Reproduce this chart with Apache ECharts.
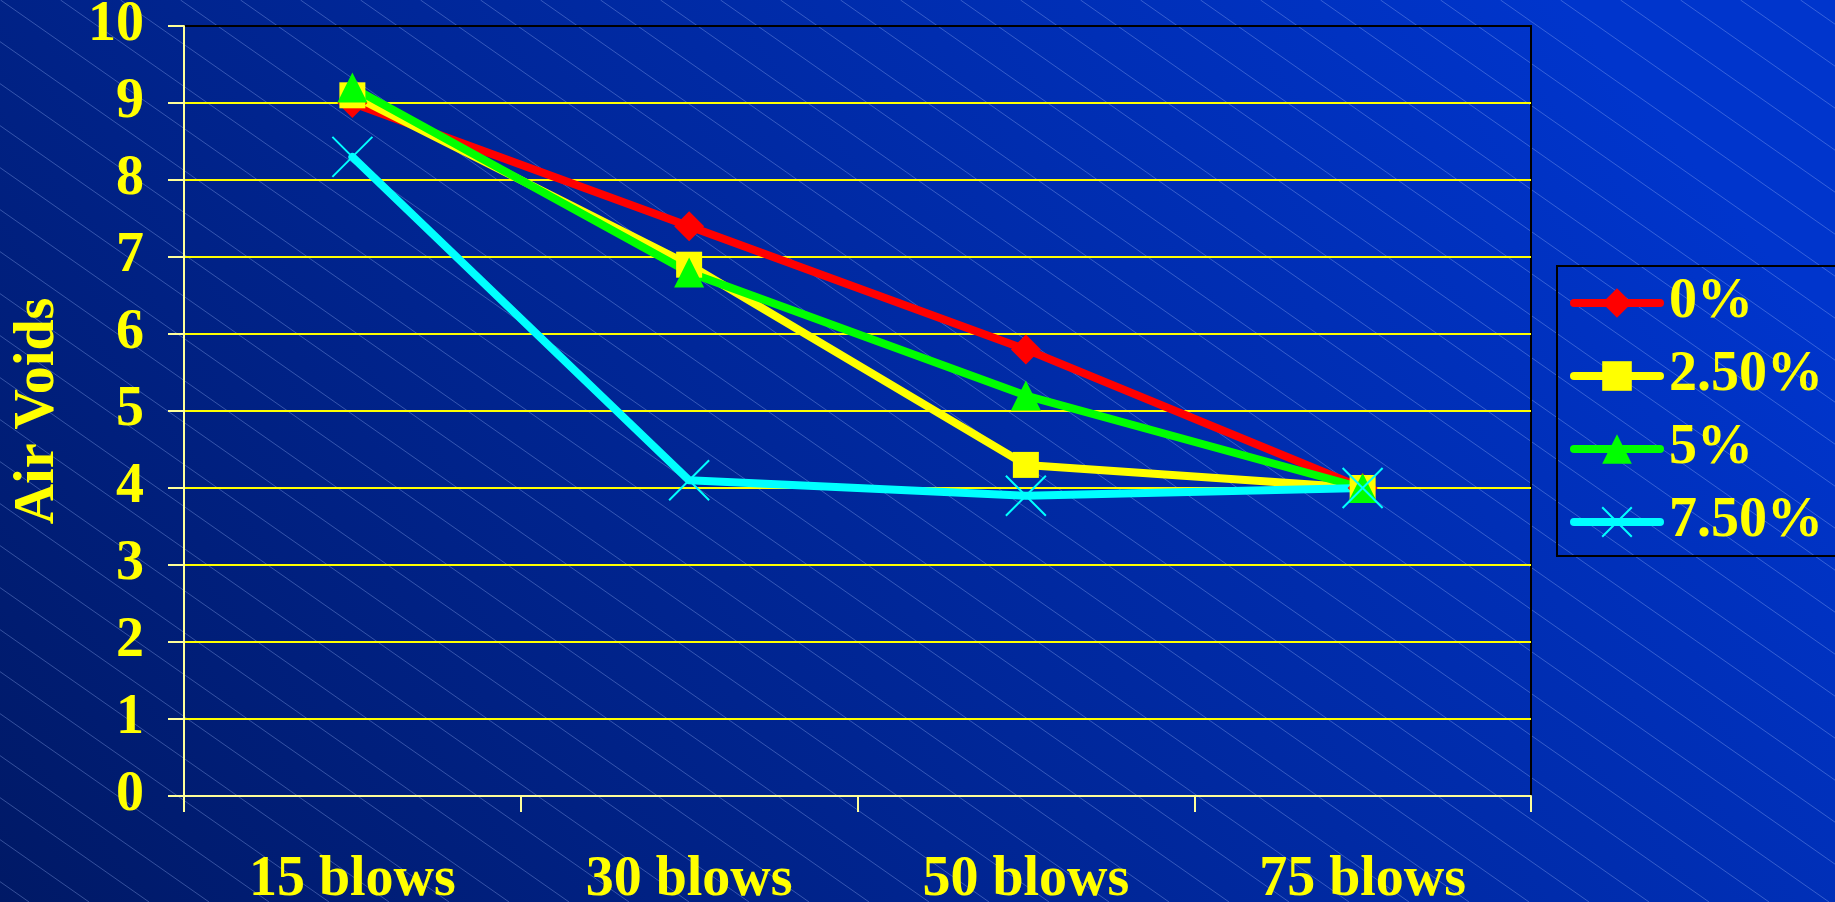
<!DOCTYPE html>
<html>
<head>
<meta charset="utf-8">
<title>Air Voids</title>
<script src="https://cdn.jsdelivr.net/npm/echarts@6/dist/echarts.min.js"></script>
<style>
  html, body { margin: 0; padding: 0; background: #001a66; }
  body { width: 1835px; height: 902px; overflow: hidden; position: relative; }
  #backdrop, #chart { position: absolute; left: 0; top: 0; width: 1835px; height: 902px; }
</style>
</head>
<body>
<canvas id="backdrop" width="1835" height="902"></canvas>
<div id="chart"></div>
<script>
// Compaction level on the x axis, air voids (%) on the y axis
const categories = ['15 blows', '30 blows', '50 blows', '75 blows'];
const seriesNames = ['0%', '2.50%', '5%', '7.50%'];
const voids0 = [9.0, 7.4, 5.8, 4.0];
const voids25 = [9.1, 6.9, 4.3, 4.0];
const voids5 = [9.2, 6.8, 5.2, 4.0];
const voids75 = [8.3, 4.1, 3.9, 4.0];

const FONT = 'Liberation Serif';
const LABEL_YELLOW = '#ffff00';
const AXIS_YELLOW = '#ffff99';

// Slide backdrop: diagonal blue gradient with faint hatch lines
(function drawBackdrop() {
  const cv = document.getElementById('backdrop');
  const ctx = cv.getContext('2d');
  const W = cv.width, H = cv.height;
  const g = ctx.createLinearGradient(0, H, W * 0.75, -H * 0.25);
  g.addColorStop(0, '#001966');
  g.addColorStop(1, '#0035cc');
  ctx.fillStyle = g;
  ctx.fillRect(0, 0, W, H);
  const slope = 0.7, step = 60;
  ctx.strokeStyle = 'rgba(165, 190, 255, 0.33)';
  ctx.lineWidth = 1;
  ctx.beginPath();
  for (let x0 = -Math.ceil(H / slope / step) * step; x0 < W; x0 += step) {
    ctx.moveTo(x0 + 0.5, 0);
    ctx.lineTo(x0 + 0.5 + H / slope, H);
  }
  ctx.stroke();
})();

function lineSeries(name, data, color, symbol, size, extraItemStyle) {
  return {
    name: name,
    type: 'line',
    data: data,
    symbol: symbol,
    symbolSize: size,
    lineStyle: { color: color, width: 8, cap: 'round', join: 'round' },
    itemStyle: Object.assign({ color: color, borderWidth: 0 }, extraItemStyle || {}),
    emphasis: { disabled: true }
  };
}

const chart = echarts.init(document.getElementById('chart'), null, { renderer: 'canvas' });

chart.setOption({
  backgroundColor: 'transparent',
  animation: false,
  grid: {
    left: 184, right: 304, top: 26, bottom: 106,
    outerBoundsMode: 'none',
    containLabel: false,
    show: true, borderColor: '#000000', borderWidth: 2, backgroundColor: 'transparent'
  },
  legend: {
    orient: 'vertical',
    left: 1557, top: 266,
    itemWidth: 86, itemHeight: 37, itemGap: 17,
    padding: [9, 40, 6, 13],
    borderColor: '#000000', borderWidth: 2,
    lineStyle: { width: 8, cap: 'round' },
    textStyle: { color: LABEL_YELLOW, fontFamily: FONT, fontWeight: 'bold', fontSize: 56, lineHeight: 56, padding: [0, 0, 0, 4] },
    selectedMode: false,
    data: seriesNames
  },
  xAxis: {
    type: 'category',
    data: categories,
    boundaryGap: true,
    axisLine: { show: true, lineStyle: { color: AXIS_YELLOW, width: 2 } },
    axisTick: { show: true, length: 16, lineStyle: { color: AXIS_YELLOW, width: 2 } },
    axisLabel: { color: LABEL_YELLOW, fontFamily: FONT, fontWeight: 'bold', fontSize: 56, margin: 57 },
    splitLine: { show: false }
  },
  yAxis: {
    type: 'value',
    min: 0, max: 10, interval: 1,
    name: 'Air Voids',
    nameLocation: 'middle',
    nameRotate: 90,
    nameGap: 117,
    nameMoveOverlap: false,
    nameTextStyle: { color: LABEL_YELLOW, fontFamily: FONT, fontWeight: 'bold', fontSize: 56 },
    axisLine: { show: true, lineStyle: { color: AXIS_YELLOW, width: 2 } },
    axisTick: { show: true, length: 16, lineStyle: { color: AXIS_YELLOW, width: 2 } },
    axisLabel: { color: LABEL_YELLOW, fontFamily: FONT, fontWeight: 'bold', fontSize: 56, margin: 40, padding: [8, 0, 0, 0] },
    splitLine: { show: true, showMinLine: false, showMaxLine: false, lineStyle: { color: '#ffff00', width: 2 } }
  },
  series: [
    lineSeries(seriesNames[0], voids0, '#ff0000', 'diamond', 30),
    lineSeries(seriesNames[1], voids25, '#ffff00', 'rect', 26),
    lineSeries(seriesNames[2], voids5, '#00ff00', 'triangle', 30),
    lineSeries(seriesNames[3], voids75, '#00ffff', 'path://M0 0L10 10M10 0L0 10', 40,
      { borderColor: '#00ffff', borderWidth: 2 })
  ]
});
</script>
</body>
</html>
